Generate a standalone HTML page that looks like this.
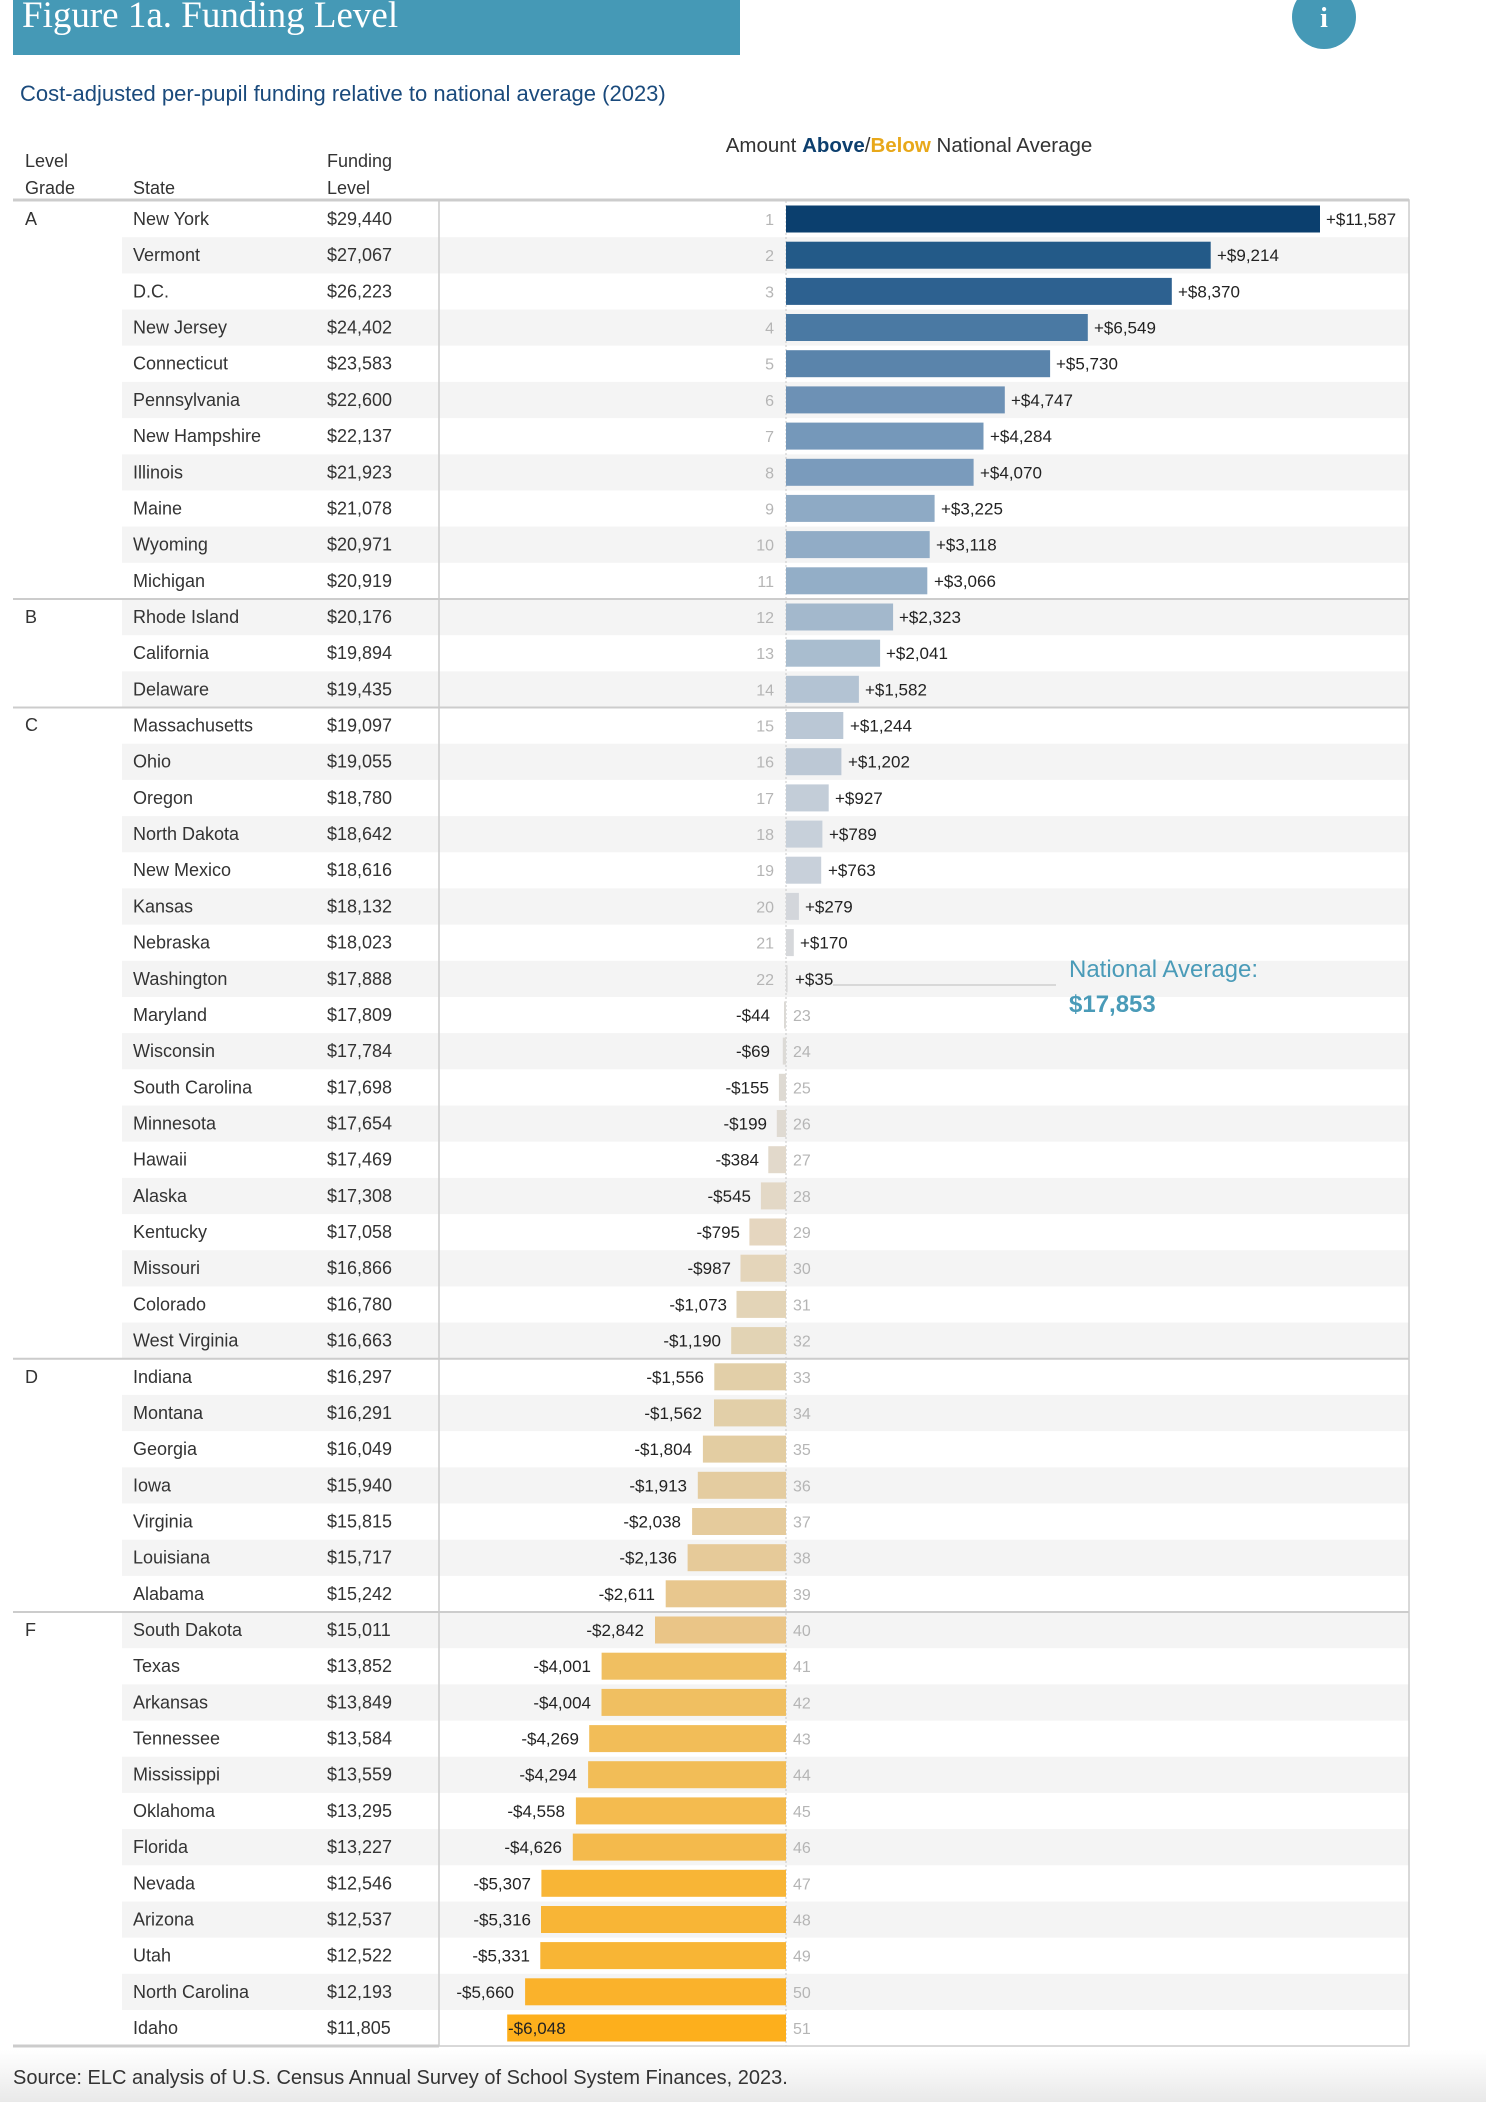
<!DOCTYPE html>
<html><head><meta charset="utf-8"><style>
body{margin:0;background:#fff}
svg{display:block;font-family:"Liberation Sans",sans-serif}
.s{font-size:18px;fill:#333}
.r{font-size:16px;fill:#b5b5b5}
.v{font-size:17px;fill:#222}
.h{font-size:18px;fill:#333}
</style></head><body>
<svg width="1486" height="2102" viewBox="0 0 1486 2102" xmlns="http://www.w3.org/2000/svg">
<defs><linearGradient id="ft" x1="0" y1="0" x2="0" y2="1"><stop offset="0" stop-color="#fff"/><stop offset="1" stop-color="#e9e9e9"/></linearGradient></defs>
<rect x="0" y="2050" width="1486" height="52" fill="url(#ft)"/>
<rect x="13" y="0" width="727" height="55" fill="#4599b6"/>
<text x="22" y="27" font-family="Liberation Serif,serif" font-size="37" fill="#fff">Figure 1a. Funding Level</text>
<circle cx="1324" cy="17" r="32" fill="#4599b6"/>
<text x="1324" y="27" text-anchor="middle" font-family="Liberation Serif,serif" font-size="28" font-weight="bold" fill="#fff">i</text>
<text x="20" y="101" font-size="22" fill="#1a4a7c">Cost-adjusted per-pupil funding relative to national average (2023)</text>
<text x="909" y="152" text-anchor="middle" font-size="20.5" fill="#333">Amount <tspan fill="#0d3f6e" font-weight="bold">Above</tspan>/<tspan fill="#e8a81a" font-weight="bold">Below</tspan> National Average</text>
<text class="h" x="25" y="167">Level</text><text class="h" x="25" y="194">Grade</text>
<text class="h" x="133" y="194">State</text>
<text class="h" x="327" y="167">Funding</text><text class="h" x="327" y="194">Level</text>

<g fill="#f4f4f4">
<rect x="122" y="237.2" width="1287" height="36.2"/><rect x="122" y="309.5" width="1287" height="36.2"/><rect x="122" y="381.9" width="1287" height="36.2"/><rect x="122" y="454.3" width="1287" height="36.2"/><rect x="122" y="526.6" width="1287" height="36.2"/><rect x="122" y="599" width="1287" height="36.2"/><rect x="122" y="671.3" width="1287" height="36.2"/><rect x="122" y="743.7" width="1287" height="36.2"/><rect x="122" y="816.1" width="1287" height="36.2"/><rect x="122" y="888.4" width="1287" height="36.2"/><rect x="122" y="960.8" width="1287" height="36.2"/><rect x="122" y="1033.1" width="1287" height="36.2"/><rect x="122" y="1105.5" width="1287" height="36.2"/><rect x="122" y="1177.9" width="1287" height="36.2"/><rect x="122" y="1250.2" width="1287" height="36.2"/><rect x="122" y="1322.6" width="1287" height="36.2"/><rect x="122" y="1394.9" width="1287" height="36.2"/><rect x="122" y="1467.3" width="1287" height="36.2"/><rect x="122" y="1539.7" width="1287" height="36.2"/><rect x="122" y="1612" width="1287" height="36.2"/><rect x="122" y="1684.4" width="1287" height="36.2"/><rect x="122" y="1756.7" width="1287" height="36.2"/><rect x="122" y="1829.1" width="1287" height="36.2"/><rect x="122" y="1901.5" width="1287" height="36.2"/><rect x="122" y="1973.8" width="1287" height="36.2"/>
</g>
<line x1="786" y1="201" x2="786" y2="2046" stroke="#c8c8c8" stroke-dasharray="2,2"/>
<rect x="439" y="200" width="970" height="1846" fill="none" stroke="#ccc" stroke-width="1.5"/>
<line x1="13" y1="200" x2="1409" y2="200" stroke="#ccc" stroke-width="3"/>
<line x1="13" y1="2046" x2="439" y2="2046" stroke="#ccc" stroke-width="3"/>
<g stroke="#ccc" stroke-width="2"><line x1="13" y1="599" x2="1409" y2="599"/><line x1="13" y1="707.5" x2="1409" y2="707.5"/><line x1="13" y1="1358.8" x2="1409" y2="1358.8"/><line x1="13" y1="1612" x2="1409" y2="1612"/></g>
<g class="s"><text x="25" y="225">A</text><text x="25" y="623">B</text><text x="25" y="731">C</text><text x="25" y="1383">D</text><text x="25" y="1636">F</text></g>

<g transform="translate(0,201)"><text class="s" x="133" y="24">New York</text><text class="s" x="327" y="24">$29,440</text><rect x="786" y="4.5" width="534" height="27" fill="#0b3f6e"/><text class="r" x="774" y="24" text-anchor="end">1</text><text class="v" x="1326" y="24">+$11,587</text></g>
<g transform="translate(0,237.2)"><text class="s" x="133" y="24">Vermont</text><text class="s" x="327" y="24">$27,067</text><rect x="786" y="4.5" width="424.7" height="27" fill="#235a88"/><text class="r" x="774" y="24" text-anchor="end">2</text><text class="v" x="1217" y="24">+$9,214</text></g>
<g transform="translate(0,273.4)"><text class="s" x="133" y="24">D.C.</text><text class="s" x="327" y="24">$26,223</text><rect x="786" y="4.5" width="385.8" height="27" fill="#2d6190"/><text class="r" x="774" y="24" text-anchor="end">3</text><text class="v" x="1178" y="24">+$8,370</text></g>
<g transform="translate(0,309.5)"><text class="s" x="133" y="24">New Jersey</text><text class="s" x="327" y="24">$24,402</text><rect x="786" y="4.5" width="301.8" height="27" fill="#4a79a3"/><text class="r" x="774" y="24" text-anchor="end">4</text><text class="v" x="1094" y="24">+$6,549</text></g>
<g transform="translate(0,345.7)"><text class="s" x="133" y="24">Connecticut</text><text class="s" x="327" y="24">$23,583</text><rect x="786" y="4.5" width="264.1" height="27" fill="#5a84ab"/><text class="r" x="774" y="24" text-anchor="end">5</text><text class="v" x="1056" y="24">+$5,730</text></g>
<g transform="translate(0,381.9)"><text class="s" x="133" y="24">Pennsylvania</text><text class="s" x="327" y="24">$22,600</text><rect x="786" y="4.5" width="218.8" height="27" fill="#6d91b5"/><text class="r" x="774" y="24" text-anchor="end">6</text><text class="v" x="1011" y="24">+$4,747</text></g>
<g transform="translate(0,418.1)"><text class="s" x="133" y="24">New Hampshire</text><text class="s" x="327" y="24">$22,137</text><rect x="786" y="4.5" width="197.5" height="27" fill="#7598ba"/><text class="r" x="774" y="24" text-anchor="end">7</text><text class="v" x="990" y="24">+$4,284</text></g>
<g transform="translate(0,454.3)"><text class="s" x="133" y="24">Illinois</text><text class="s" x="327" y="24">$21,923</text><rect x="786" y="4.5" width="187.6" height="27" fill="#7a9bbc"/><text class="r" x="774" y="24" text-anchor="end">8</text><text class="v" x="980" y="24">+$4,070</text></g>
<g transform="translate(0,490.4)"><text class="s" x="133" y="24">Maine</text><text class="s" x="327" y="24">$21,078</text><rect x="786" y="4.5" width="148.6" height="27" fill="#8eaac5"/><text class="r" x="774" y="24" text-anchor="end">9</text><text class="v" x="941" y="24">+$3,225</text></g>
<g transform="translate(0,526.6)"><text class="s" x="133" y="24">Wyoming</text><text class="s" x="327" y="24">$20,971</text><rect x="786" y="4.5" width="143.7" height="27" fill="#91acc6"/><text class="r" x="774" y="24" text-anchor="end">10</text><text class="v" x="936" y="24">+$3,118</text></g>
<g transform="translate(0,562.8)"><text class="s" x="133" y="24">Michigan</text><text class="s" x="327" y="24">$20,919</text><rect x="786" y="4.5" width="141.3" height="27" fill="#93aec7"/><text class="r" x="774" y="24" text-anchor="end">11</text><text class="v" x="934" y="24">+$3,066</text></g>
<g transform="translate(0,599)"><text class="s" x="133" y="24">Rhode Island</text><text class="s" x="327" y="24">$20,176</text><rect x="786" y="4.5" width="107.1" height="27" fill="#a3b8cc"/><text class="r" x="774" y="24" text-anchor="end">12</text><text class="v" x="899" y="24">+$2,323</text></g>
<g transform="translate(0,635.2)"><text class="s" x="133" y="24">California</text><text class="s" x="327" y="24">$19,894</text><rect x="786" y="4.5" width="94.1" height="27" fill="#a9bdcf"/><text class="r" x="774" y="24" text-anchor="end">13</text><text class="v" x="886" y="24">+$2,041</text></g>
<g transform="translate(0,671.3)"><text class="s" x="133" y="24">Delaware</text><text class="s" x="327" y="24">$19,435</text><rect x="786" y="4.5" width="72.9" height="27" fill="#b3c3d3"/><text class="r" x="774" y="24" text-anchor="end">14</text><text class="v" x="865" y="24">+$1,582</text></g>
<g transform="translate(0,707.5)"><text class="s" x="133" y="24">Massachusetts</text><text class="s" x="327" y="24">$19,097</text><rect x="786" y="4.5" width="57.3" height="27" fill="#bac7d5"/><text class="r" x="774" y="24" text-anchor="end">15</text><text class="v" x="850" y="24">+$1,244</text></g>
<g transform="translate(0,743.7)"><text class="s" x="133" y="24">Ohio</text><text class="s" x="327" y="24">$19,055</text><rect x="786" y="4.5" width="55.4" height="27" fill="#bcc8d5"/><text class="r" x="774" y="24" text-anchor="end">16</text><text class="v" x="848" y="24">+$1,202</text></g>
<g transform="translate(0,779.9)"><text class="s" x="133" y="24">Oregon</text><text class="s" x="327" y="24">$18,780</text><rect x="786" y="4.5" width="42.7" height="27" fill="#c3cdd8"/><text class="r" x="774" y="24" text-anchor="end">17</text><text class="v" x="835" y="24">+$927</text></g>
<g transform="translate(0,816.1)"><text class="s" x="133" y="24">North Dakota</text><text class="s" x="327" y="24">$18,642</text><rect x="786" y="4.5" width="36.4" height="27" fill="#c7d0da"/><text class="r" x="774" y="24" text-anchor="end">18</text><text class="v" x="829" y="24">+$789</text></g>
<g transform="translate(0,852.2)"><text class="s" x="133" y="24">New Mexico</text><text class="s" x="327" y="24">$18,616</text><rect x="786" y="4.5" width="35.2" height="27" fill="#c8d0da"/><text class="r" x="774" y="24" text-anchor="end">19</text><text class="v" x="828" y="24">+$763</text></g>
<g transform="translate(0,888.4)"><text class="s" x="133" y="24">Kansas</text><text class="s" x="327" y="24">$18,132</text><rect x="786" y="4.5" width="12.9" height="27" fill="#d3d6db"/><text class="r" x="774" y="24" text-anchor="end">20</text><text class="v" x="805" y="24">+$279</text></g>
<g transform="translate(0,924.6)"><text class="s" x="133" y="24">Nebraska</text><text class="s" x="327" y="24">$18,023</text><rect x="786" y="4.5" width="7.8" height="27" fill="#d6d8db"/><text class="r" x="774" y="24" text-anchor="end">21</text><text class="v" x="800" y="24">+$170</text></g>
<g transform="translate(0,960.8)"><text class="s" x="133" y="24">Washington</text><text class="s" x="327" y="24">$17,888</text><rect x="786" y="4.5" width="1.6" height="27" fill="#d9d9d9"/><text class="r" x="774" y="24" text-anchor="end">22</text><text class="v" x="795" y="24">+$35</text></g>
<g transform="translate(0,997)"><text class="s" x="133" y="24">Maryland</text><text class="s" x="327" y="24">$17,809</text><rect x="784" y="4.5" width="2" height="27" fill="#dcdad6"/><text class="v" x="770" y="24" text-anchor="end">-$44</text><text class="r" x="793" y="24">23</text></g>
<g transform="translate(0,1033.1)"><text class="s" x="133" y="24">Wisconsin</text><text class="s" x="327" y="24">$17,784</text><rect x="782.8" y="4.5" width="3.2" height="27" fill="#dcdad6"/><text class="v" x="770" y="24" text-anchor="end">-$69</text><text class="r" x="793" y="24">24</text></g>
<g transform="translate(0,1069.3)"><text class="s" x="133" y="24">South Carolina</text><text class="s" x="327" y="24">$17,698</text><rect x="778.9" y="4.5" width="7.1" height="27" fill="#dedad3"/><text class="v" x="769" y="24" text-anchor="end">-$155</text><text class="r" x="793" y="24">25</text></g>
<g transform="translate(0,1105.5)"><text class="s" x="133" y="24">Minnesota</text><text class="s" x="327" y="24">$17,654</text><rect x="776.8" y="4.5" width="9.2" height="27" fill="#dfdad2"/><text class="v" x="767" y="24" text-anchor="end">-$199</text><text class="r" x="793" y="24">26</text></g>
<g transform="translate(0,1141.7)"><text class="s" x="133" y="24">Hawaii</text><text class="s" x="327" y="24">$17,469</text><rect x="768.3" y="4.5" width="17.7" height="27" fill="#e2d9cb"/><text class="v" x="759" y="24" text-anchor="end">-$384</text><text class="r" x="793" y="24">27</text></g>
<g transform="translate(0,1177.9)"><text class="s" x="133" y="24">Alaska</text><text class="s" x="327" y="24">$17,308</text><rect x="760.9" y="4.5" width="25.1" height="27" fill="#e3d8c6"/><text class="v" x="751" y="24" text-anchor="end">-$545</text><text class="r" x="793" y="24">28</text></g>
<g transform="translate(0,1214)"><text class="s" x="133" y="24">Kentucky</text><text class="s" x="327" y="24">$17,058</text><rect x="749.4" y="4.5" width="36.6" height="27" fill="#e5d6bf"/><text class="v" x="740" y="24" text-anchor="end">-$795</text><text class="r" x="793" y="24">29</text></g>
<g transform="translate(0,1250.2)"><text class="s" x="133" y="24">Missouri</text><text class="s" x="327" y="24">$16,866</text><rect x="740.5" y="4.5" width="45.5" height="27" fill="#e4d5ba"/><text class="v" x="731" y="24" text-anchor="end">-$987</text><text class="r" x="793" y="24">30</text></g>
<g transform="translate(0,1286.4)"><text class="s" x="133" y="24">Colorado</text><text class="s" x="327" y="24">$16,780</text><rect x="736.5" y="4.5" width="49.5" height="27" fill="#e3d4b7"/><text class="v" x="727" y="24" text-anchor="end">-$1,073</text><text class="r" x="793" y="24">31</text></g>
<g transform="translate(0,1322.6)"><text class="s" x="133" y="24">West Virginia</text><text class="s" x="327" y="24">$16,663</text><rect x="731.2" y="4.5" width="54.8" height="27" fill="#e2d3b4"/><text class="v" x="721" y="24" text-anchor="end">-$1,190</text><text class="r" x="793" y="24">32</text></g>
<g transform="translate(0,1358.8)"><text class="s" x="133" y="24">Indiana</text><text class="s" x="327" y="24">$16,297</text><rect x="714.3" y="4.5" width="71.7" height="27" fill="#e2cfa8"/><text class="v" x="704" y="24" text-anchor="end">-$1,556</text><text class="r" x="793" y="24">33</text></g>
<g transform="translate(0,1394.9)"><text class="s" x="133" y="24">Montana</text><text class="s" x="327" y="24">$16,291</text><rect x="714" y="4.5" width="72" height="27" fill="#e2cfa8"/><text class="v" x="702" y="24" text-anchor="end">-$1,562</text><text class="r" x="793" y="24">34</text></g>
<g transform="translate(0,1431.1)"><text class="s" x="133" y="24">Georgia</text><text class="s" x="327" y="24">$16,049</text><rect x="702.9" y="4.5" width="83.1" height="27" fill="#e3cda2"/><text class="v" x="692" y="24" text-anchor="end">-$1,804</text><text class="r" x="793" y="24">35</text></g>
<g transform="translate(0,1467.3)"><text class="s" x="133" y="24">Iowa</text><text class="s" x="327" y="24">$15,940</text><rect x="697.8" y="4.5" width="88.2" height="27" fill="#e4cca0"/><text class="v" x="687" y="24" text-anchor="end">-$1,913</text><text class="r" x="793" y="24">36</text></g>
<g transform="translate(0,1503.5)"><text class="s" x="133" y="24">Virginia</text><text class="s" x="327" y="24">$15,815</text><rect x="692.1" y="4.5" width="93.9" height="27" fill="#e5cb9c"/><text class="v" x="681" y="24" text-anchor="end">-$2,038</text><text class="r" x="793" y="24">37</text></g>
<g transform="translate(0,1539.7)"><text class="s" x="133" y="24">Louisiana</text><text class="s" x="327" y="24">$15,717</text><rect x="687.6" y="4.5" width="98.4" height="27" fill="#e6ca99"/><text class="v" x="677" y="24" text-anchor="end">-$2,136</text><text class="r" x="793" y="24">38</text></g>
<g transform="translate(0,1575.8)"><text class="s" x="133" y="24">Alabama</text><text class="s" x="327" y="24">$15,242</text><rect x="665.7" y="4.5" width="120.3" height="27" fill="#e8c78e"/><text class="v" x="655" y="24" text-anchor="end">-$2,611</text><text class="r" x="793" y="24">39</text></g>
<g transform="translate(0,1612)"><text class="s" x="133" y="24">South Dakota</text><text class="s" x="327" y="24">$15,011</text><rect x="655" y="4.5" width="131" height="27" fill="#eac587"/><text class="v" x="644" y="24" text-anchor="end">-$2,842</text><text class="r" x="793" y="24">40</text></g>
<g transform="translate(0,1648.2)"><text class="s" x="133" y="24">Texas</text><text class="s" x="327" y="24">$13,852</text><rect x="601.6" y="4.5" width="184.4" height="27" fill="#f0bf61"/><text class="v" x="591" y="24" text-anchor="end">-$4,001</text><text class="r" x="793" y="24">41</text></g>
<g transform="translate(0,1684.4)"><text class="s" x="133" y="24">Arkansas</text><text class="s" x="327" y="24">$13,849</text><rect x="601.5" y="4.5" width="184.5" height="27" fill="#f0bf61"/><text class="v" x="591" y="24" text-anchor="end">-$4,004</text><text class="r" x="793" y="24">42</text></g>
<g transform="translate(0,1720.6)"><text class="s" x="133" y="24">Tennessee</text><text class="s" x="327" y="24">$13,584</text><rect x="589.2" y="4.5" width="196.8" height="27" fill="#f2bd58"/><text class="v" x="579" y="24" text-anchor="end">-$4,269</text><text class="r" x="793" y="24">43</text></g>
<g transform="translate(0,1756.7)"><text class="s" x="133" y="24">Mississippi</text><text class="s" x="327" y="24">$13,559</text><rect x="588.1" y="4.5" width="197.9" height="27" fill="#f2bd57"/><text class="v" x="577" y="24" text-anchor="end">-$4,294</text><text class="r" x="793" y="24">44</text></g>
<g transform="translate(0,1792.9)"><text class="s" x="133" y="24">Oklahoma</text><text class="s" x="327" y="24">$13,295</text><rect x="575.9" y="4.5" width="210.1" height="27" fill="#f4bb4f"/><text class="v" x="565" y="24" text-anchor="end">-$4,558</text><text class="r" x="793" y="24">45</text></g>
<g transform="translate(0,1829.1)"><text class="s" x="133" y="24">Florida</text><text class="s" x="327" y="24">$13,227</text><rect x="572.8" y="4.5" width="213.2" height="27" fill="#f4ba4c"/><text class="v" x="562" y="24" text-anchor="end">-$4,626</text><text class="r" x="793" y="24">46</text></g>
<g transform="translate(0,1865.3)"><text class="s" x="133" y="24">Nevada</text><text class="s" x="327" y="24">$12,546</text><rect x="541.4" y="4.5" width="244.6" height="27" fill="#f8b536"/><text class="v" x="531" y="24" text-anchor="end">-$5,307</text><text class="r" x="793" y="24">47</text></g>
<g transform="translate(0,1901.5)"><text class="s" x="133" y="24">Arizona</text><text class="s" x="327" y="24">$12,537</text><rect x="541" y="4.5" width="245" height="27" fill="#f8b536"/><text class="v" x="531" y="24" text-anchor="end">-$5,316</text><text class="r" x="793" y="24">48</text></g>
<g transform="translate(0,1937.6)"><text class="s" x="133" y="24">Utah</text><text class="s" x="327" y="24">$12,522</text><rect x="540.3" y="4.5" width="245.7" height="27" fill="#f8b535"/><text class="v" x="530" y="24" text-anchor="end">-$5,331</text><text class="r" x="793" y="24">49</text></g>
<g transform="translate(0,1973.8)"><text class="s" x="133" y="24">North Carolina</text><text class="s" x="327" y="24">$12,193</text><rect x="525.1" y="4.5" width="260.9" height="27" fill="#fab22b"/><text class="v" x="514" y="24" text-anchor="end">-$5,660</text><text class="r" x="793" y="24">50</text></g>
<g transform="translate(0,2010)"><text class="s" x="133" y="24">Idaho</text><text class="s" x="327" y="24">$11,805</text><rect x="507.2" y="4.5" width="278.8" height="27" fill="#fdaf1c"/><text class="v" x="508" y="24">-$6,048</text><text class="r" x="793" y="24">51</text></g>

<line x1="833" y1="985" x2="1056" y2="985" stroke="#cfcfcf" stroke-width="1.5"/>
<text x="1069" y="977" font-size="24" fill="#4a9bb8">National Average:</text>
<text x="1069" y="1012" font-size="24" font-weight="bold" fill="#4a9bb8">$17,853</text>
<text x="13" y="2084" font-size="20" fill="#333">Source: ELC analysis of U.S. Census Annual Survey of School System Finances, 2023.</text>
</svg>
</body></html>
